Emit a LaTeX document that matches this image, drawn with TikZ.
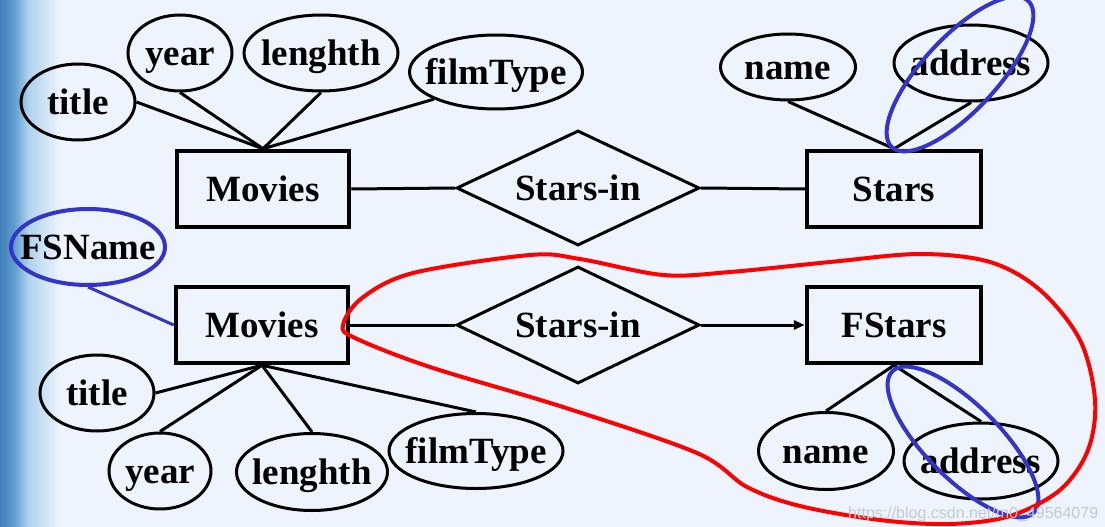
\documentclass[tikz,border=0pt]{standalone}
\usepackage{fontspec}
\setmainfont{Liberation Serif}
\newfontfamily\wmfont{Liberation Sans}
\usetikzlibrary{shapes.geometric,arrows.meta}
\definecolor{bgc}{RGB}{237,244,253}
\definecolor{markblue}{RGB}{52,52,200}
\definecolor{bandA}{RGB}{66,128,186}
\definecolor{bandB}{RGB}{95,156,206}
\definecolor{bandC}{RGB}{175,210,238}
\definecolor{wmgray}{RGB}{196,202,210}
\begin{document}
\begin{tikzpicture}[x=1pt,y=-1pt,
  lbl/.style={font=\fontsize{37}{40}\selectfont\bfseries, text height=25pt, text depth=0pt, inner sep=0pt},
  attr/.style={ellipse, draw, line width=3pt, inner sep=0pt, label={[lbl]center:#1}},
  ent/.style={lbl, rectangle, draw, line width=4.5pt},
  rel/.style={lbl, diamond, draw, line width=3pt, aspect=2.1},
  conn/.style={line width=3pt},
  hilite/.style={draw=markblue, line width=4pt},
  redloop/.style={draw=red, line width=4pt},
]
\useasboundingbox (0,0) rectangle (1105,527);
\fill[bgc] (0,0) rectangle (1105,527);
% left decorative band
\shade[left color=bandA, right color=bandB] (0,0) rectangle (14,527);
\shade[left color=bandB, right color=bandC] (14,0) rectangle (28,527);
\shade[left color=bandC, right color=bgc] (28,0) rectangle (60,527);

% ---------- top diagram ----------
\node[attr=title,    minimum width=114, minimum height=76] (title)    at (78,102)  {};
\node[attr=year,     minimum width=104, minimum height=76] (year)     at (180,53)  {};
\node[attr=lenghth,  minimum width=154, minimum height=76] (lenghth)  at (321,53)  {};
\node[attr=filmType, minimum width=173, minimum height=74] (filmType) at (496,72)  {};
\node[ent,  minimum width=172, minimum height=76] (movies)   at (263,189) {Movies};
\node[rel,  minimum width=243, minimum height=115] (starsin) at (578,188) {Stars-in};
\node[ent,  minimum width=174, minimum height=76] (stars)    at (894,189) {Stars};
\node[attr=name,     minimum width=135, minimum height=66] (name)     at (788,67)  {};
\node[attr=address,  minimum width=154, minimum height=76] (address)  at (971,63)  {};

\draw[conn] (movies.north) -- (title.east);
\draw[conn] (movies.north) -- (year.south);
\draw[conn] (movies.north) -- (lenghth.south);
\draw[conn] (movies.north) -- (filmType.south west);
\draw[conn] (movies.east) -- (starsin.west);
\draw[conn] (starsin.east) -- (stars.west);
\draw[conn] (stars.north) -- (name.south);
\draw[conn] (stars.north) -- (address.south);

\draw[hilite, rotate around={47:(960,74)}] (960,74) ellipse [x radius=100, y radius=37];

% ---------- bottom diagram ----------
\node[attr=FSName, draw=markblue, line width=4pt, minimum width=154, minimum height=76] (fsname) at (88,247) {};
\node[ent,  minimum width=172, minimum height=76] (movies2)   at (262,325) {Movies};
\node[attr=title,    minimum width=114, minimum height=76] (title2)    at (97,393)  {};
\node[attr=year,     minimum width=102, minimum height=76] (year2)     at (160,471) {};
\node[attr=lenghth,  minimum width=151, minimum height=77] (lenghth2)  at (312,472) {};
\node[attr=filmType, minimum width=174, minimum height=75] (filmType2) at (476,451) {};
\node[rel,  minimum width=243, minimum height=117] (starsin2) at (578,325) {Stars-in};
\node[ent,  minimum width=174, minimum height=76] (fstars)    at (894,325) {FStars};
\node[attr=name,     minimum width=135, minimum height=77] (name2)     at (826,451) {};
\node[attr=address,  minimum width=154, minimum height=76] (address2)  at (981,461) {};

\draw[conn, draw=markblue] (fsname.south) -- (movies2.west);
\draw[conn] (movies2.south) -- (title2.east);
\draw[conn] (movies2.south) -- (year2.north);
\draw[conn] (movies2.south) -- (lenghth2.north);
\draw[conn] (movies2.south) -- (filmType2.north);
\draw[conn] (movies2.east) -- (starsin2.west);
\draw[conn, -{Triangle[length=11pt,width=9pt]}] (starsin2.east) -- (fstars.west);
\draw[conn] (fstars.south) -- (name2.north);
\draw[conn] (fstars.south) -- (address2.north);

\draw[hilite, rotate around={-45:(963,442)}] (963,442) ellipse [x radius=100, y radius=37];

\draw[redloop] plot[smooth cycle, tension=0.55] coordinates {
  (343,325) (362,298) (413,273) (530,255) (580,259) (663,275) (730,272)
  (830,262) (920,254) (990,262) (1040,290) (1080,340) (1095,400) (1088,450)
  (1060,490) (1010,516) (950,524) (880,520) (800,506) (747,487) (697,453)
  (563,407) (430,367) (355,338)};

% watermark
\node[anchor=base west, inner sep=0pt, text=wmgray, font=\wmfont\fontsize{16}{18}\selectfont] (wm) at (848,518) {https://blog.csdn.net/m0\_49564079};
\end{tikzpicture}
\end{document}
